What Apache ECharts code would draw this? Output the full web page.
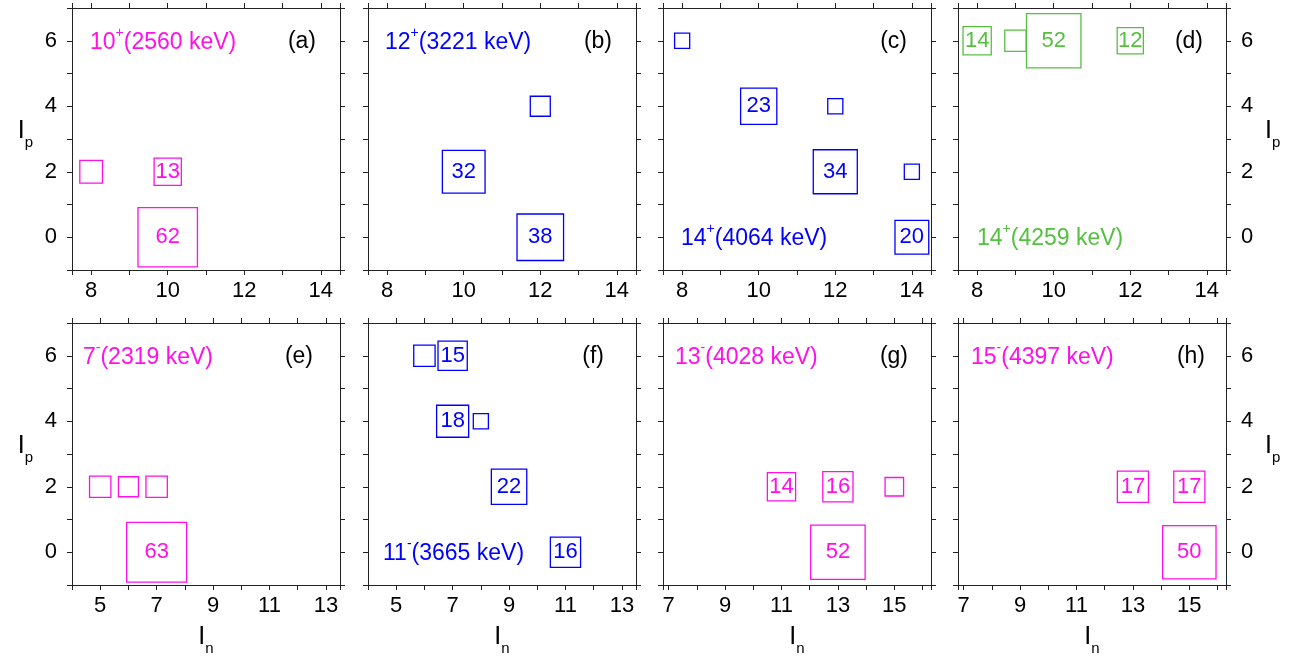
<!DOCTYPE html>
<html><head><meta charset="utf-8">
<script src="https://cdn.jsdelivr.net/npm/echarts@6/dist/echarts.min.js"></script>
<style>html,body{margin:0;padding:0;background:#fff}#c{width:1299px;height:663px}</style>
</head><body><div id="c"></div>
<script>
// ---------------- data (In = x, Ip = y, W = weight in %) ----------------
const aIn = [8, 10, 10],            aIp = [2, 2, 0],            aW = [9, 13, 62];
const bIn = [12, 10, 12],           bIp = [4, 2, 0],            bW = [7, 32, 38];
const cIn = [8, 10, 12, 12, 14, 14],cIp = [6, 4, 4, 2, 2, 0],   cW = [4, 23, 4, 34, 4, 20];
const dIn = [8, 9, 10, 12],         dIp = [6, 6, 6, 6],         dW = [14, 8, 52, 12];
const eIn = [5, 6, 7, 7],           eIp = [2, 2, 2, 0],         eW = [8, 7, 8, 63];
const fIn = [6, 7, 7, 8, 9, 11],    fIp = [6, 6, 4, 4, 2, 0],   fW = [8, 15, 18, 4, 22, 16];
const gIn = [11, 13, 15, 13],       gIp = [2, 2, 2, 0],         gW = [14, 16, 6, 52];
const hIn = [13, 15, 15],           hIp = [2, 2, 0],            hW = [17, 17, 50];

// tick values / tick labels
const inTicksTop = [7.5, 8, 9, 10, 11, 12, 13, 14, 14.5];
const inLabelsTop = [8, 10, 12, 14];
const inTicksEF = [4, 5, 6, 7, 8, 9, 10, 11, 12, 13, 13.5];
const inLabelsEF = [5, 7, 9, 11, 13];
const inTicksGH = [6.8, 7, 8, 9, 10, 11, 12, 13, 14, 15, 16, 16.3];
const inLabelsGH = [7, 9, 11, 13, 15];
const ipTicks = [-1, 0, 1, 2, 3, 4, 5, 6, 7];
const ipLabels = [0, 2, 4, 6];

// state annotations
const stateSpin = ['10', '12', '14', '14', '7', '11', '13', '15'];
const stateParity = ['+', '+', '+', '+', '-', '-', '-', '-'];
const stateEnergy = ['(2560 keV)', '(3221 keV)', '(4064 keV)', '(4259 keV)', '(2319 keV)', '(3665 keV)', '(4028 keV)', '(4397 keV)'];
const panelTags = ['(a)', '(b)', '(c)', '(d)', '(e)', '(f)', '(g)', '(h)'];

// ---------------- styling / layout ----------------
const FONT = '"Liberation Sans", Arial, sans-serif';
const MAG = '#FF10E8', BLUE = '#0000FF', GREEN = '#55C040';
const AX = '#222';
const L = [72, 368, 663, 958], W = 268, T = [8, 323], H = 262;

const panels = [
  {x: aIn, y: aIp, w: aW, col: MAG,   xr: [7.5, 14.5], xt: inTicksTop, xl: inLabelsTop, ySide: 'left'},
  {x: bIn, y: bIp, w: bW, col: BLUE,  xr: [7.5, 14.5], xt: inTicksTop, xl: inLabelsTop, ySide: null},
  {x: cIn, y: cIp, w: cW, col: BLUE,  xr: [7.5, 14.5], xt: inTicksTop, xl: inLabelsTop, ySide: null},
  {x: dIn, y: dIp, w: dW, col: GREEN, xr: [7.5, 14.5], xt: inTicksTop, xl: inLabelsTop, ySide: 'right'},
  {x: eIn, y: eIp, w: eW, col: MAG,   xr: [4, 13.5],   xt: inTicksEF,  xl: inLabelsEF,  ySide: 'left'},
  {x: fIn, y: fIp, w: fW, col: BLUE,  xr: [4, 13.5],   xt: inTicksEF,  xl: inLabelsEF,  ySide: null},
  {x: gIn, y: gIp, w: gW, col: MAG,   xr: [6.8, 16.3], xt: inTicksGH,  xl: inLabelsGH,  ySide: null},
  {x: hIn, y: hIp, w: hW, col: MAG,   xr: [6.8, 16.3], xt: inTicksGH,  xl: inLabelsGH,  ySide: 'right'}
];
// annotation placement (pixel offsets from grid left / top)
const annLeft = [18, 17, 18, 19, 11, 15, 12, 13];
const annRowY = [35, 35, 231, 231, 35, 231, 35, 35];
const tagRight = [244, 244, 244, 245, 241, 236, 245, 247];

const nameRich = {
  m: {fontSize: 25, fontFamily: FONT, color: '#000', lineHeight: 38},
  s: {fontSize: 15, fontFamily: FONT, color: '#000', lineHeight: 15, verticalAlign: 'bottom'}
};
const lineStyle = {color: AX, width: 1};

const grids = [], xAxes = [], yAxes = [], series = [], graphics = [];
panels.forEach((p, i) => {
  const col = i % 4, row = Math.floor(i / 4);
  grids.push({left: L[col], top: T[row], width: W, height: H, outerBoundsMode: 'none'});
  xAxes.push({
    gridIndex: i, type: 'value', min: p.xr[0], max: p.xr[1], position: 'bottom',
    axisLine: {show: true, onZero: false, lineStyle},
    axisTick: {show: true, inside: false, length: 5, customValues: p.xt, lineStyle},
    axisLabel: {show: true, customValues: p.xl, margin: 10, fontSize: 22, fontFamily: FONT, color: '#000'},
    splitLine: {show: false},
    name: row === 1 ? '{m|I}{s|n}' : '', nameLocation: 'middle', nameGap: 33,
    nameTextStyle: {rich: nameRich}
  });
  xAxes.push({
    gridIndex: i, type: 'value', min: p.xr[0], max: p.xr[1], position: 'top',
    axisLine: {show: true, onZero: false, lineStyle},
    axisTick: {show: true, inside: false, length: 5, customValues: p.xt, lineStyle},
    axisLabel: {show: false}, splitLine: {show: false}
  });
  ['left', 'right'].forEach(side => {
    const lab = p.ySide === side;
    yAxes.push({
      gridIndex: i, type: 'value', min: -1, max: 7, position: side,
      axisLine: {show: true, onZero: false, lineStyle},
      axisTick: {show: true, inside: false, length: 5, customValues: ipTicks, lineStyle},
      axisLabel: {show: lab, customValues: ipLabels, margin: 15, fontSize: 22, fontFamily: FONT, color: '#000'},
      splitLine: {show: false},
      name: lab ? '{m|I}{s|p}' : '', nameLocation: 'middle', nameGap: 39, nameRotate: 0,
      nameTextStyle: {rich: nameRich, padding: [0, 0, 16, 0]}
    });
  });
  series.push({
    type: 'scatter', xAxisIndex: 2 * i, yAxisIndex: 2 * i,
    data: p.x.map((v, k) => [v, p.y[k], p.w[k]]),
    symbol: 'rect',
    symbolSize: v => 7.55 * Math.sqrt(v[2]),
    itemStyle: {color: 'rgba(0,0,0,0)', borderColor: p.col, borderWidth: 1.3, opacity: 1},
    label: {show: true, position: 'inside', formatter: q => q.value[2] >= 10 ? String(q.value[2]) : '',
            color: p.col, fontSize: 22, fontFamily: FONT},
    emphasis: {disabled: true}, silent: true
  });
  graphics.push({
    type: 'text', z: 100,
    style: {
      x: L[col] + annLeft[i], y: T[row] + annRowY[i],
      text: '{m|' + stateSpin[i] + '}{s|' + stateParity[i] + '}{m|' + stateEnergy[i] + '}',
      align: 'left', verticalAlign: 'middle',
      rich: {
        m: {fontSize: 23, fontFamily: FONT, fill: p.col, lineHeight: 34},
        s: {fontSize: 14, fontFamily: FONT, fill: p.col, lineHeight: 14, verticalAlign: 'top'}
      }
    }
  });
  graphics.push({
    type: 'text', z: 100,
    style: {x: L[col] + tagRight[i], y: T[row] + 34, text: panelTags[i], fill: '#000',
            fontSize: 23, fontFamily: FONT, align: 'right', verticalAlign: 'middle'}
  });
});

const chart = echarts.init(document.getElementById('c'), null, {renderer: 'canvas'});
chart.setOption({
  backgroundColor: '#fff', animation: false,
  grid: grids, xAxis: xAxes, yAxis: yAxes, series, graphic: graphics
});
</script></body></html>
